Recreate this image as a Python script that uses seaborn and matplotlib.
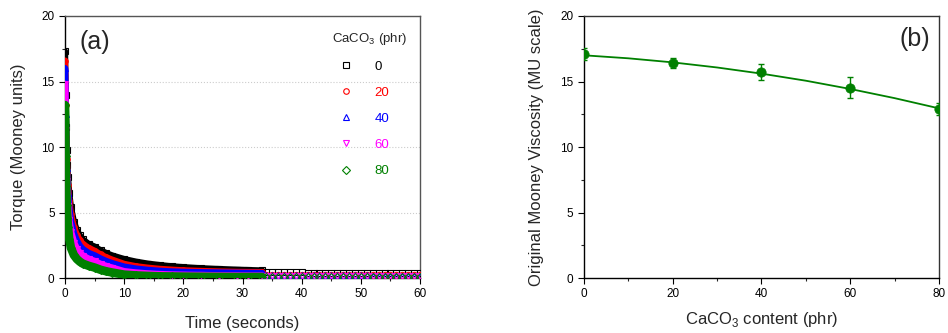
import numpy as np
import pandas as pd
import seaborn as sns
import matplotlib.pyplot as plt
from matplotlib.lines import Line2D
from matplotlib.ticker import MultipleLocator

# ---- panel (a): stress relaxation, torque vs time ----
t_fast = [0, 0.1, 0.2, 0.3, 0.4, 0.5, 0.7, 1.0, 1.5, 2, 2.5, 3, 4, 5, 6, 7, 8,
          10, 12, 14, 16, 18, 20, 23, 26, 29, 31, 33.3]
tq_0 = [17.3, 14.0, 11.5, 9.8, 8.6, 7.7, 6.5, 5.4, 4.3, 3.65, 3.25, 2.95, 2.6, 2.4, 2.12,
        1.9, 1.72, 1.45, 1.25, 1.1, 0.99, 0.9, 0.83, 0.75, 0.69, 0.64, 0.61, 0.58]
tq_20 = [16.6, 13.2, 10.8, 9.1, 8.0, 7.1, 5.9, 4.9, 3.9, 3.3, 2.9, 2.6, 2.3, 2.08, 1.8,
         1.58, 1.4, 1.08, 0.9, 0.79, 0.7, 0.64, 0.59, 0.54, 0.5, 0.47, 0.46, 0.45]
tq_40 = [16.0, 12.5, 10.0, 8.4, 7.3, 6.5, 5.3, 4.3, 3.4, 2.85, 2.45, 2.2, 1.9, 1.72, 1.48,
         1.28, 1.12, 0.86, 0.71, 0.61, 0.54, 0.49, 0.46, 0.43, 0.41, 0.39, 0.38, 0.37]
tq_60 = [14.8, 11.3, 8.9, 7.4, 6.3, 5.5, 4.4, 3.5, 2.7, 2.2, 1.9, 1.7, 1.45, 1.28, 1.06,
         0.9, 0.77, 0.5, 0.4, 0.33, 0.28, 0.25, 0.23, 0.21, 0.19, 0.18, 0.17, 0.17]
tq_80 = [13.2, 9.3, 7.0, 5.6, 4.6, 3.9, 3.0, 2.3, 1.75, 1.45, 1.25, 1.1, 0.93, 0.8, 0.63,
         0.51, 0.42, 0.26, 0.2, 0.16, 0.13, 0.12, 0.11, 0.1, 0.09, 0.08, 0.08, 0.08]

# sparse readings after ~33 s
t_slow = [34, 35, 36, 37, 38, 39, 40, 41, 42, 43, 44, 45, 46, 47, 48, 49, 50,
          51, 52, 53, 54, 55, 56, 57, 58, 59, 60]
tail_0 = [0.44, 0.44, 0.44, 0.43, 0.43, 0.43, 0.43, 0.42, 0.42, 0.42, 0.42, 0.41, 0.41, 0.41,
          0.41, 0.40, 0.40, 0.40, 0.40, 0.39, 0.39, 0.39, 0.39, 0.38, 0.38, 0.38, 0.38]
tail_20 = [0.27, 0.27, 0.27, 0.26, 0.26, 0.26, 0.26, 0.26, 0.25, 0.25, 0.25, 0.25, 0.25, 0.24,
           0.24, 0.24, 0.24, 0.24, 0.23, 0.23, 0.23, 0.23, 0.23, 0.22, 0.22, 0.22, 0.22]
tail_40 = [0.23, 0.23, 0.23, 0.22, 0.22, 0.22, 0.22, 0.22, 0.21, 0.21, 0.21, 0.21, 0.21, 0.20,
           0.20, 0.20, 0.20, 0.20, 0.19, 0.19, 0.19, 0.19, 0.19, 0.18, 0.18, 0.18, 0.18]
tail_60 = [0.16, 0.16, 0.16, 0.16, 0.15, 0.15, 0.15, 0.15, 0.15, 0.15, 0.14, 0.14, 0.14, 0.14,
           0.14, 0.14, 0.13, 0.13, 0.13, 0.13, 0.13, 0.13, 0.12, 0.12, 0.12, 0.12, 0.12]
tail_80 = [0.08, 0.08, 0.08, 0.08, 0.08, 0.08, 0.08, 0.08, 0.08, 0.07, 0.07, 0.07, 0.07, 0.07,
           0.07, 0.07, 0.07, 0.07, 0.07, 0.07, 0.07, 0.06, 0.06, 0.06, 0.06, 0.06, 0.06]

loadings = ['0', '20', '40', '60', '80']
colors = ['black', '#ff0000', '#0000ff', '#ff00ff', '#008000']
markers = ['s', 'o', '^', 'v', 'D']
band_lw = [4.5, 4.5, 4.8, 5.0, 6.2]
fast = [tq_0, tq_20, tq_40, tq_60, tq_80]
slow = [tail_0, tail_20, tail_40, tail_60, tail_80]

# ---- panel (b): Mooney viscosity vs CaCO3 ----
caco3 = [0, 20, 40, 60, 80]
viscosity = [17.1, 16.44, 15.7, 14.53, 12.92]
visc_err = [0.45, 0.38, 0.6, 0.78, 0.45]
fit_x = [0, 10, 20, 30, 40, 50, 60, 70, 80]
fit_y = [17.0, 16.77, 16.46, 16.07, 15.6, 15.06, 14.43, 13.73, 12.95]

sns.set_style('ticks')
plt.rcParams['font.family'] = ['Liberation Sans', 'DejaVu Sans']
plt.rcParams['mathtext.fontset'] = 'custom'
plt.rcParams['mathtext.rm'] = 'Liberation Sans'
plt.rcParams['xtick.direction'] = 'out'
plt.rcParams['ytick.direction'] = 'out'

fig = plt.figure(figsize=(9.48, 3.33), dpi=100)
ax1 = fig.add_axes([0.0686, 0.165, 0.3745, 0.787])
ax2 = fig.add_axes([0.616, 0.165, 0.3745, 0.787])

for lab, col, mk, lw, yf, ys in zip(loadings, colors, markers, band_lw, fast, slow):
    sns.lineplot(x=t_fast, y=yf, ax=ax1, color=col, lw=lw, sort=False,
                 marker=mk, mfc='none', mec=col, ms=4, mew=0.8, zorder=3)
    sns.lineplot(x=t_slow, y=ys, ax=ax1, color=col, lw=0, sort=False,
                 marker=mk, mfc='none', mec=col, ms=4.5, mew=0.8, zorder=3)

ax1.set_xlim(0, 60)
ax1.set_ylim(0, 20)
ax1.xaxis.set_major_locator(MultipleLocator(10))
ax1.xaxis.set_minor_locator(MultipleLocator(5))
ax1.yaxis.set_major_locator(MultipleLocator(5))
ax1.yaxis.set_minor_locator(MultipleLocator(2.5))
ax1.grid(axis='y', which='major', color='#cccccc', ls=':', lw=0.8)
ax1.set_xlabel('Time (seconds)', fontsize=12, labelpad=11)
ax1.set_ylabel('Torque (Mooney units)', fontsize=12, labelpad=11)
ax1.text(0.042, 0.9, '(a)', transform=ax1.transAxes, fontsize=18, va='center', ha='left')

handles = [Line2D([], [], ls='none', marker=mk, mfc='none', mec=c, ms=4, mew=0.8)
           for mk, c in zip(markers, colors)]
ax1.legend(handles, loadings, loc='upper left', bbox_to_anchor=(0.761, 0.83),
           frameon=False, fontsize=9.5, labelcolor=colors, handlelength=1.6,
           handletextpad=1.4, labelspacing=1.05, borderpad=0, borderaxespad=0)
ax1.text(0.859, 0.912, 'CaCO$_3$ (phr)', transform=ax1.transAxes, fontsize=9.5,
         ha='center', va='center')

ax2.errorbar(caco3, viscosity, yerr=visc_err, fmt='none', ecolor='#008000',
             elinewidth=1, capsize=2.5, capthick=1, zorder=3)
sns.lineplot(x=fit_x, y=fit_y, ax=ax2, color='#008000', lw=1.3, zorder=2)
sns.scatterplot(x=caco3, y=viscosity, ax=ax2, color='#008000', s=45,
                edgecolor='#008000', zorder=4)
ax2.set_xlim(0, 80)
ax2.set_ylim(0, 20)
ax2.xaxis.set_major_locator(MultipleLocator(20))
ax2.xaxis.set_minor_locator(MultipleLocator(10))
ax2.yaxis.set_major_locator(MultipleLocator(5))
ax2.yaxis.set_minor_locator(MultipleLocator(2.5))
ax2.set_xlabel('CaCO$_3$ content (phr)', fontsize=12, labelpad=7)
ax2.set_ylabel('Original Mooney Viscosity (MU scale)', fontsize=12, labelpad=12)
ax2.text(0.975, 0.912, '(b)', transform=ax2.transAxes, fontsize=18, va='center', ha='right')

for ax in (ax1, ax2):
    ax.tick_params(which='major', length=4, width=0.8, labelsize=8.5, colors='black')
    ax.tick_params(which='minor', length=2.5, width=0.8)
    for s in ax.spines.values():
        s.set_linewidth(1.0)
        s.set_color('black')
for s in ('top', 'right'):
    ax1.spines[s].set_color('#555555')
    ax2.spines[s].set_color('#333333')

fig.savefig('out.png', dpi=100)
